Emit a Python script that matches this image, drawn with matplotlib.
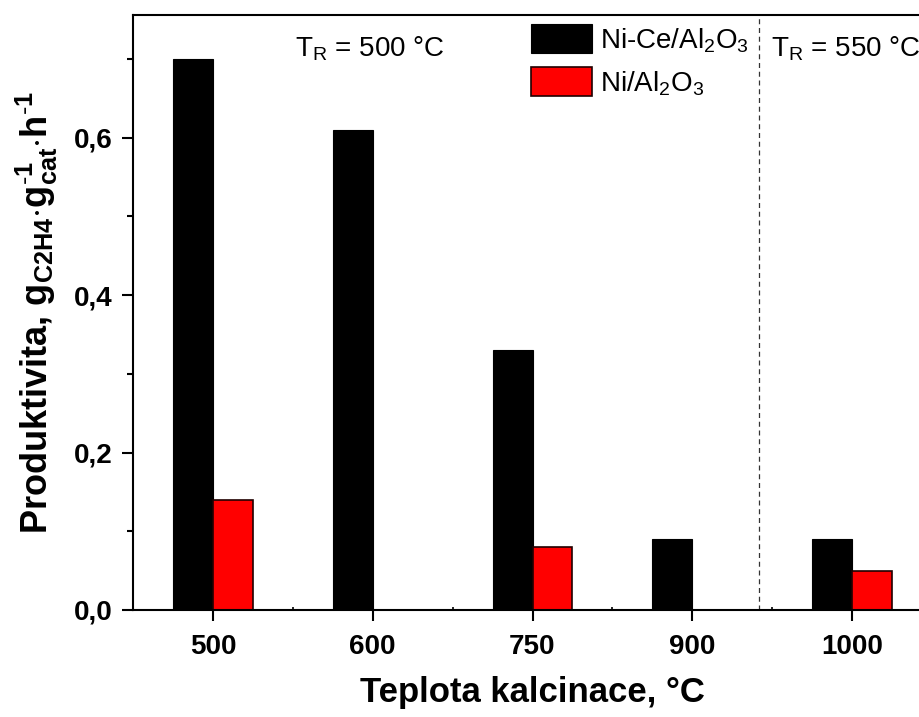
import matplotlib
matplotlib.use('Agg')
import matplotlib.pyplot as plt
import numpy as np

plt.rcParams['font.family'] = ['Liberation Sans', 'DejaVu Sans']
plt.rcParams['mathtext.fontset'] = 'custom'
plt.rcParams['mathtext.rm'] = 'Liberation Sans'
plt.rcParams['mathtext.bf'] = 'Liberation Sans:bold'
plt.rcParams['mathtext.it'] = 'Liberation Sans:italic'
plt.rcParams['mathtext.default'] = 'rm'

# kalcinacni teploty a produktivita obou katalyzatoru
teploty = ['500', '600', '750', '900', '1000']
ni_ce = [0.70, 0.61, 0.33, 0.09, 0.09]
ni = [0.14, 0.0, 0.08, 0.0, 0.05]
hranice_tr = 3.42

x = np.arange(len(teploty))
w = 0.25

fig = plt.figure(figsize=(9.2, 7.17), dpi=100)
ax = fig.add_axes([133/920, 107/717, 799/920, 595/717])

ax.bar(x - w/2, ni_ce, w, color='black', edgecolor='black', linewidth=0.8,
       label=r'Ni-Ce/Al$_2$O$_3$')
ax.bar(x + w/2, ni, w, color='#ff0000', edgecolor='#200000', linewidth=1.2,
       label=r'Ni/Al$_2$O$_3$')

ax.axvline(hranice_tr, color='#333333', lw=0.9, ls=(0, (4, 3)))

ax.set_xlim(-0.5, 4.5)
ax.set_ylim(0, 0.756)
ax.set_xticks(x)
ax.set_xticklabels(teploty)
ax.set_xticks(x[:-1] + 0.5, minor=True)
ax.set_yticks([0, 0.2, 0.4, 0.6])
ax.set_yticklabels(['0,0', '0,2', '0,4', '0,6'])
ax.set_yticks([0.1, 0.3, 0.5, 0.7], minor=True)

for s in ax.spines.values():
    s.set_linewidth(1.5)

ax.tick_params(axis='both', which='major', labelsize=20, width=1.5, length=8, pad=7)
ax.tick_params(axis='x', which='major', pad=9)
ax.tick_params(axis='y', which='minor', width=1.5, length=4)
ax.tick_params(axis='x', which='minor', width=1.2, length=2, direction='in')
for t in ax.get_xticklabels() + ax.get_yticklabels():
    t.set_fontweight('bold')

ax.set_xlabel('Teplota kalcinace, °C', fontsize=25, fontweight='bold', labelpad=12)
ax.set_ylabel(r'Produktivita, $\mathbf{g_{C2H4}{\cdot}g_{cat}^{\text{-}1}{\cdot}h^{\text{-}1}}$',
              fontsize=26, fontweight='bold', labelpad=10)

ax.text(0.515, 0.703, r'T$_\mathrm{R}$ = 500 °C', fontsize=20, transform=ax.transData)
ax.text(3.49, 0.703, r'T$_\mathrm{R}$ = 550 °C', fontsize=20, transform=ax.transData)

ax.legend(loc='upper left', bbox_to_anchor=(531/920, 1 - 24/717),
          bbox_transform=fig.transFigure, frameon=False, fontsize=20,
          handlelength=2.2, handleheight=1.25, handletextpad=0.3,
          labelspacing=0.45, borderpad=0, borderaxespad=0)

fig.savefig('out.png', dpi=100)
